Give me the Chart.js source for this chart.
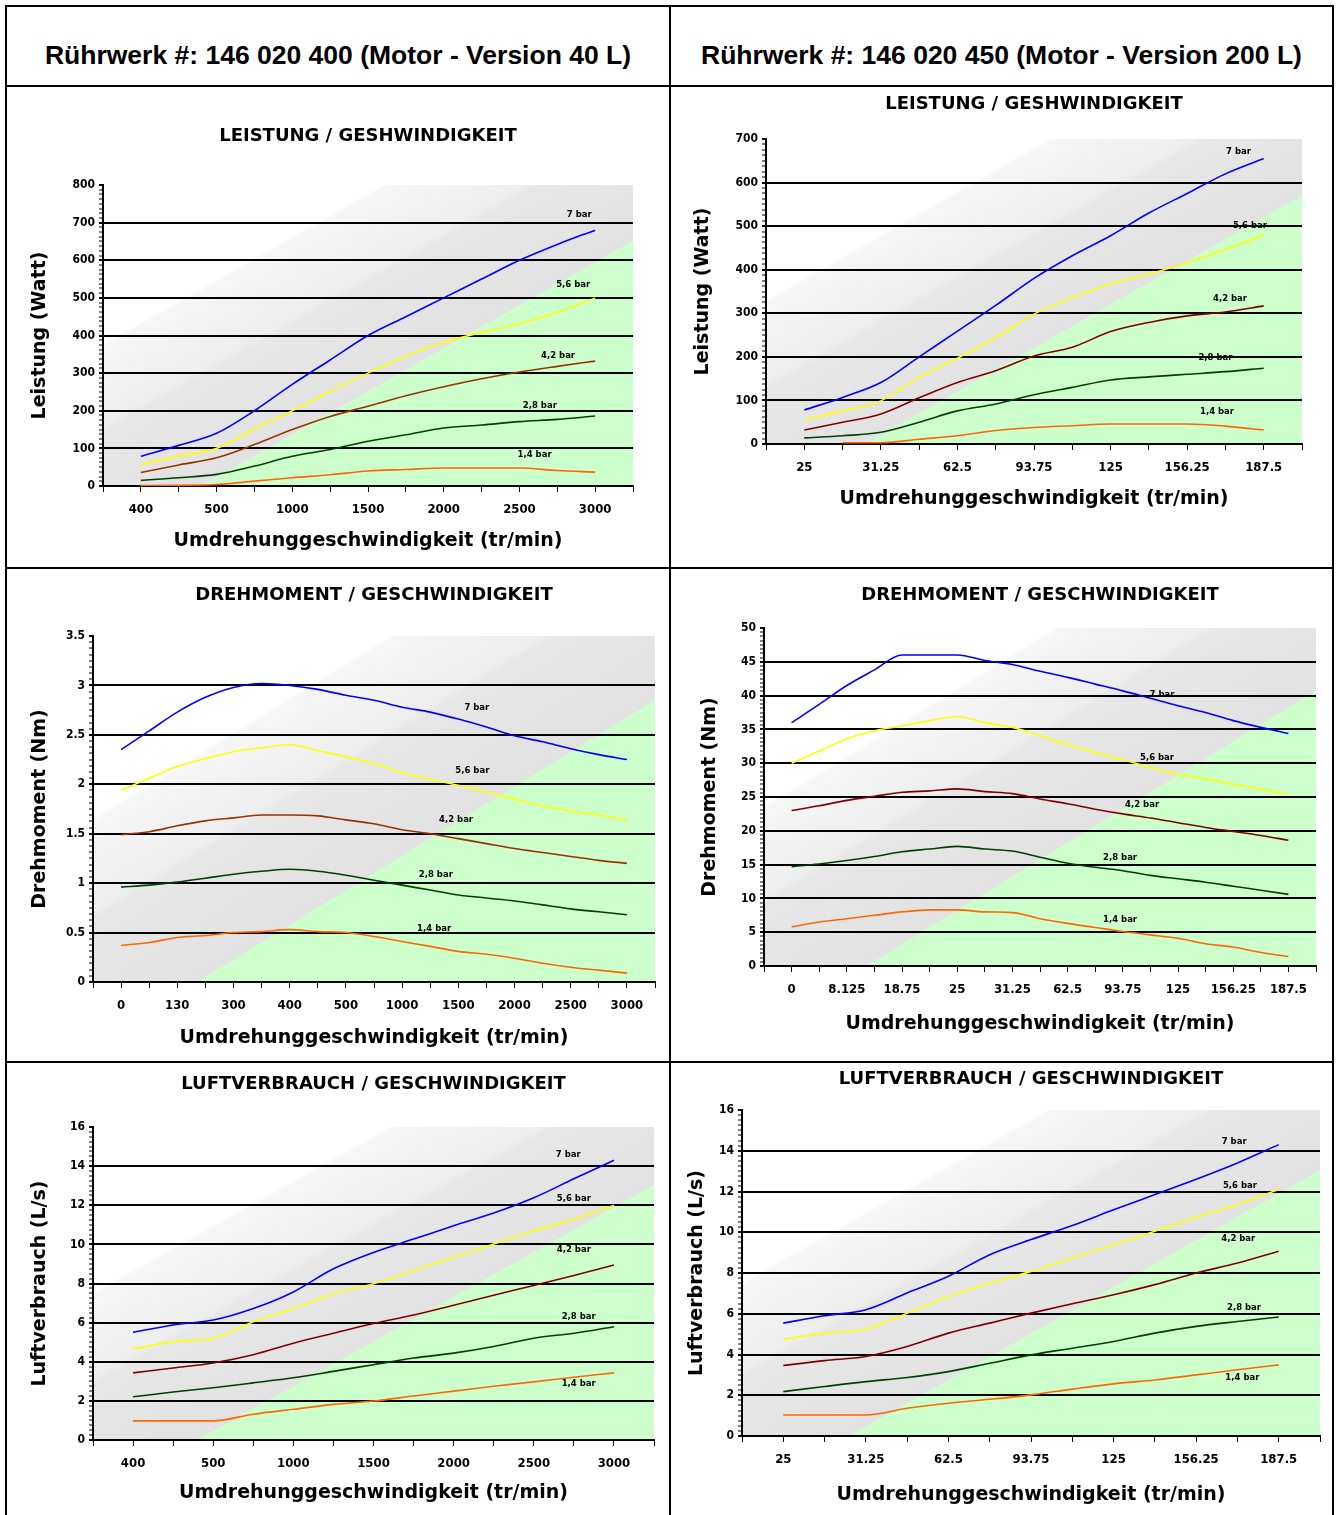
<!DOCTYPE html>
<html>
<head>
<meta charset="utf-8">
<script src="https://cdn.jsdelivr.net/npm/chart.js@4.4.1/dist/chart.umd.min.js"></script>
<style>
  body { margin: 0; background: #fff; width: 1336px; height: 1515px; position: relative; overflow: hidden; font-family: "Liberation Sans", Arial, sans-serif; }
  .ln { position: absolute; background: #000; }
  .hd { position: absolute; top: 40px; height: 30px; line-height: 30px; text-align: center; font-weight: bold; font-size: 26.5px; color: #000; white-space: nowrap; }
  canvas { position: absolute; }
</style>
</head>
<body>
<div class="ln" style="left:5px;top:5px;width:1329px;height:2px"></div>
<div class="ln" style="left:5px;top:85px;width:1329px;height:2px"></div>
<div class="ln" style="left:5px;top:567px;width:1329px;height:2px"></div>
<div class="ln" style="left:5px;top:1061px;width:1329px;height:2px"></div>
<div class="ln" style="left:5px;top:5px;width:2px;height:1510px"></div>
<div class="ln" style="left:669px;top:5px;width:2px;height:1510px"></div>
<div class="ln" style="left:1332px;top:5px;width:2px;height:1510px"></div>
<div class="hd" style="left:7px;width:662px">Rührwerk #: 146 020 400 (Motor - Version 40 L)</div>
<div class="hd" style="left:671px;width:661px">Rührwerk #: 146 020 450 (Motor - Version 200 L)</div>

<canvas id="c1" width="662" height="480" style="left:7px;top:87px"></canvas>
<canvas id="c2" width="661" height="480" style="left:671px;top:87px"></canvas>
<canvas id="c3" width="662" height="492" style="left:7px;top:569px"></canvas>
<canvas id="c4" width="661" height="492" style="left:671px;top:569px"></canvas>
<canvas id="c5" width="662" height="452" style="left:7px;top:1063px"></canvas>
<canvas id="c6" width="661" height="452" style="left:671px;top:1063px"></canvas>

<script>
// category labels on the x axes
const speeds40 = ['400', '500', '1000', '1500', '2000', '2500', '3000'];
const speeds200 = ['25', '31.25', '62.5', '93.75', '125', '156.25', '187.5'];
const torqueSpeeds40 = ['0', '130', '300', '400', '500', '1000', '1500', '2000', '2500', '3000'];
const torqueSpeeds200 = ['0', '8.125', '18.75', '25', '31.25', '62.5', '93.75', '125', '156.25', '187.5'];
const pressures = ['7 bar', '5,6 bar', '4,2 bar', '2,8 bar', '1,4 bar'];

// values read every half category (category, midpoint, next category ...)
const power40_7 = [79, 108, 140, 200, 270, 335, 400, 450, 500, 550, 600, 642, 680];
const power40_56 = [57, 80, 100, 152, 200, 252, 300, 345, 382, 408, 432, 462, 500];
const power40_42 = [36, 56, 75, 110, 150, 185, 212, 240, 264, 285, 303, 318, 332];
const power40_28 = [15, 22, 31, 53, 79, 97, 119, 136, 154, 162, 171, 177, 186];
const power40_14 = [1, 2, 4, 13, 22, 30, 40, 44, 48, 48, 48, 41, 37];

const power200_7 = [78, 107, 141, 200, 259, 318, 380, 432, 478, 530, 575, 620, 655];
const power200_56 = [55, 76, 99, 153, 197, 244, 298, 336, 368, 390, 416, 447, 480];
const power200_42 = [32, 50, 69, 106, 141, 168, 202, 222, 258, 279, 294, 303, 317];
const power200_28 = [14, 19, 27, 50, 76, 92, 113, 130, 147, 154, 160, 166, 174];
const power200_14 = [null, 3, 3, 11, 19, 31, 38, 42, 46, 46, 46, 41, 32];

const torque40_7 = [2.35, 2.54, 2.73, 2.88, 2.98, 3.02, 3.0, 2.96, 2.9, 2.85, 2.78, 2.73, 2.66, 2.58, 2.49, 2.43, 2.36, 2.3, 2.25];
const torque40_56 = [1.94, 2.06, 2.18, 2.26, 2.33, 2.37, 2.4, 2.34, 2.28, 2.21, 2.12, 2.05, 1.99, 1.92, 1.85, 1.78, 1.73, 1.69, 1.64];
const torque40_42 = [1.49, 1.52, 1.58, 1.63, 1.66, 1.69, 1.69, 1.68, 1.64, 1.6, 1.54, 1.5, 1.45, 1.4, 1.35, 1.31, 1.27, 1.23, 1.2];
const torque40_28 = [0.96, 0.98, 1.01, 1.05, 1.09, 1.12, 1.14, 1.12, 1.08, 1.03, 0.98, 0.93, 0.88, 0.85, 0.82, 0.78, 0.74, 0.71, 0.68];
const torque40_14 = [0.37, 0.4, 0.45, 0.47, 0.5, 0.51, 0.53, 0.51, 0.5, 0.46, 0.41, 0.36, 0.31, 0.28, 0.24, 0.19, 0.15, 0.12, 0.09];

const torque200_7 = [36, 38.7, 41.5, 43.8, 46, 46, 46, 45.2, 44.6, 43.6, 42.7, 41.7, 40.7, 39.6, 38.5, 37.5, 36.3, 35.3, 34.4];
const torque200_56 = [30, 31.8, 33.6, 34.8, 35.5, 36.3, 36.9, 36, 35.3, 34.1, 32.8, 31.6, 30.5, 29.4, 28.4, 27.7, 26.9, 26.2, 25.4];
const torque200_42 = [23, 23.7, 24.5, 25.1, 25.7, 25.9, 26.2, 25.8, 25.5, 24.7, 24, 23.2, 22.5, 21.9, 21.2, 20.5, 19.9, 19.3, 18.6];
const torque200_28 = [14.7, 15.1, 15.6, 16.2, 16.9, 17.3, 17.7, 17.3, 17, 16.1, 15.2, 14.6, 14.1, 13.4, 12.9, 12.4, 11.8, 11.2, 10.6];
const torque200_14 = [5.8, 6.5, 7, 7.5, 8, 8.3, 8.3, 8, 7.9, 7, 6.3, 5.7, 5.1, 4.6, 4.1, 3.3, 2.8, 2, 1.4];

const air40_7 = [5.5, 5.88, 6.13, 6.72, 7.57, 8.75, 9.59, 10.27, 10.95, 11.6, 12.38, 13.35, 14.3];
const air40_56 = [4.65, 5.03, 5.2, 6.05, 6.72, 7.48, 7.99, 8.67, 9.34, 10.02, 10.7, 11.28, 12];
const air40_42 = [3.43, 3.68, 3.94, 4.36, 4.95, 5.46, 5.96, 6.39, 6.89, 7.4, 7.9, 8.41, 8.95];
const air40_28 = [2.21, 2.45, 2.67, 2.92, 3.18, 3.51, 3.85, 4.19, 4.44, 4.78, 5.2, 5.46, 5.79];
const air40_14 = [0.98, 0.98, 0.98, 1.32, 1.57, 1.82, 1.99, 2.25, 2.5, 2.75, 2.97, 3.21, 3.43];

const air200_7 = [5.54, 5.9, 6.2, 7.02, 7.84, 8.9, 9.64, 10.33, 11.1, 11.85, 12.6, 13.4, 14.3];
const air200_56 = [4.75, 5.05, 5.25, 6.03, 6.85, 7.5, 8.08, 8.74, 9.39, 10.05, 10.75, 11.36, 12.1];
const air200_42 = [3.46, 3.7, 3.9, 4.39, 5.05, 5.54, 6.03, 6.49, 6.93, 7.43, 8, 8.49, 9.07];
const air200_28 = [2.18, 2.43, 2.67, 2.87, 3.16, 3.57, 3.98, 4.31, 4.64, 5.05, 5.38, 5.62, 5.84];
const air200_14 = [1.03, 1.03, 1.03, 1.36, 1.61, 1.8, 2.02, 2.3, 2.56, 2.75, 3, 3.25, 3.49];

const LINE_COLORS = ['#0000ff', '#ffff00', null, '#004000', '#ff6600'];

// diagonal grey / green background of each plot area
const bandPlugin = {
  id: 'bands',
  beforeDraw(chart) {
    const { ctx, chartArea: a } = chart;
    const w = a.right - a.left, h = a.bottom - a.top;
    const k = 2 / (h / w + w / h);
    const g = ctx.createLinearGradient(a.left, a.top, a.left + h * k, a.top + w * k);
    g.addColorStop(0, '#ffffff');
    g.addColorStop(0.262, '#ffffff');
    g.addColorStop(0.27, '#f6f6f6');
    g.addColorStop(0.4, '#eeeeee');
    g.addColorStop(0.41, '#e7e7e7');
    g.addColorStop(0.5925, '#e2e2e2');
    g.addColorStop(0.5926, '#ccffcc');
    g.addColorStop(1, '#ccffcc');
    ctx.save();
    ctx.fillStyle = g;
    ctx.fillRect(a.left, a.top, w, h);
    ctx.restore();
  }
};

// small pressure captions next to the curves
const captionPlugin = {
  id: 'captions',
  afterDatasetsDraw(chart, args, opts) {
    const { ctx, scales } = chart;
    ctx.save();
    ctx.font = 'bold 8.5px "DejaVu Sans"';
    ctx.fillStyle = '#000';
    ctx.textAlign = 'center';
    ctx.textBaseline = 'middle';
    (opts.anchors || []).forEach((p, i) => {
      ctx.fillText(pressures[i], scales.x.getPixelForValue(p[0]), scales.y.getPixelForValue(p[1]));
    });
    ctx.restore();
  }
};

function isMajor(v, major) {
  const r = v / major;
  return Math.abs(r - Math.round(r)) < 1e-6;
}

function makeChart(cfg) {
  const n = cfg.xLabels.length;
  const datasets = cfg.series.map((vals, i) => ({
    label: pressures[i],
    data: vals.map((v, j) => ({ x: j * 0.5, y: v })),
    borderColor: LINE_COLORS[i] || cfg.brown,
    borderWidth: 1.6,
    pointRadius: 0,
    cubicInterpolationMode: 'monotone',
    fill: false
  }));
  return new Chart(document.getElementById(cfg.id), {
    type: 'line',
    data: { datasets },
    plugins: [bandPlugin, captionPlugin],
    options: {
      responsive: false,
      animation: false,
      layout: { padding: { left: 0, top: 0, right: cfg.padRight, bottom: cfg.padBottom } },
      plugins: {
        legend: { display: false },
        tooltip: { enabled: false },
        captions: { anchors: cfg.anchors },
        title: {
          display: true, text: cfg.title, color: '#000', fullSize: false,
          font: { family: '"DejaVu Sans"', size: 18, weight: 'bold', lineHeight: 1.2 },
          padding: { top: cfg.titleTop, bottom: cfg.titleBottom }
        }
      },
      scales: {
        x: {
          type: 'linear', min: -0.5, max: n - 0.5,
          afterFit: s => { s.height = 75; },
          border: { color: '#000', width: 2 },
          grid: { drawOnChartArea: false, tickColor: '#000', tickLength: 6, tickWidth: 1 },
          ticks: {
            stepSize: 0.5, autoSkip: false, maxRotation: 0, padding: 10, color: '#000',
            font: { family: '"DejaVu Sans Condensed", "Liberation Sans Narrow", "DejaVu Sans"', size: 13, weight: 'bold' },
            callback: v => Number.isInteger(v) ? cfg.xLabels[v] : ''
          },
          title: {
            display: true, text: 'Umdrehunggeschwindigkeit (tr/min)', color: '#000',
            font: { family: '"DejaVu Sans"', size: 19, weight: 'bold', lineHeight: 1.2 },
            padding: { top: 0, bottom: cfg.xTitleBottom }
          }
        },
        y: {
          min: 0, max: cfg.yMax,
          afterFit: s => { s.width = cfg.yw; },
          border: { color: '#000', width: 2 },
          grid: {
            color: c => (c.tick && isMajor(c.tick.value, cfg.yMajor) && c.tick.value > 0 && c.tick.value < cfg.yMax) ? '#000' : 'rgba(0,0,0,0)',
            lineWidth: 2,
            tickColor: '#000', tickLength: 4,
            tickWidth: c => (c.tick && isMajor(c.tick.value, cfg.yMajor)) ? 2 : 1
          },
          ticks: {
            stepSize: cfg.yMajor / 8, autoSkip: false, padding: 4, color: '#000',
            font: { family: '"DejaVu Sans Condensed", "Liberation Sans Narrow", "DejaVu Sans"', size: 12, weight: 'bold' },
            callback: v => isMajor(v, cfg.yMajor) ? String(Math.round(v * 100) / 100) : ''
          },
          title: {
            display: true, text: cfg.yTitle, color: '#000',
            font: { family: '"DejaVu Sans"', size: 19, weight: 'bold', lineHeight: 1.2 },
            padding: { top: cfg.yTitleTop, bottom: 0 }
          }
        }
      }
    }
  });
}

makeChart({
  id: 'c1', title: 'LEISTUNG / GESHWINDIGKEIT', yTitle: 'Leistung (Watt)', xLabels: speeds40,
  series: [power40_7, power40_56, power40_42, power40_28, power40_14], brown: '#993300',
  yMax: 800, yMajor: 100,
  anchors: [[5.79, 720], [5.71, 536], [5.51, 347], [5.27, 213], [5.2, 83]],
  yw: 96, titleTop: 38.2, titleBottom: 38.2, padRight: 36, padBottom: 6, xTitleBottom: 8.6, yTitleTop: 21.6
});
makeChart({
  id: 'c2', title: 'LEISTUNG / GESHWINDIGKEIT', yTitle: 'Leistung (Watt)', xLabels: speeds200,
  series: [power200_7, power200_56, power200_42, power200_28, power200_14], brown: '#800000',
  yMax: 700, yMajor: 100,
  anchors: [[5.67, 670], [5.82, 500], [5.56, 333], [5.37, 197], [5.39, 73]],
  yw: 95, titleTop: 6.2, titleBottom: 24.2, padRight: 30, padBottom: 48, xTitleBottom: 8.6, yTitleTop: 20.6
});
makeChart({
  id: 'c3', title: 'DREHMOMENT / GESCHWINDIGKEIT', yTitle: 'Drehmoment (Nm)', xLabels: torqueSpeeds40,
  series: [torque40_7, torque40_56, torque40_42, torque40_28, torque40_14], brown: '#993300',
  yMax: 3.5, yMajor: 0.5,
  anchors: [[6.33, 2.77], [6.25, 2.14], [5.96, 1.64], [5.6, 1.08], [5.57, 0.54]],
  yw: 86, titleTop: 15.2, titleBottom: 30.2, padRight: 14, padBottom: 4, xTitleBottom: 7.6, yTitleTop: 21.6
});
makeChart({
  id: 'c4', title: 'DREHMOMENT / GESCHWINDIGKEIT', yTitle: 'Drehmoment (Nm)', xLabels: torqueSpeeds200,
  series: [torque200_7, torque200_56, torque200_42, torque200_28, torque200_14], brown: '#800000',
  yMax: 50, yMajor: 5,
  anchors: [[6.71, 40.1], [6.62, 30.8], [6.35, 23.8], [5.95, 16], [5.95, 6.8]],
  yw: 93, titleTop: 15.2, titleBottom: 22.2, padRight: 16, padBottom: 20, xTitleBottom: 5.6, yTitleTop: 27.6
});
makeChart({
  id: 'c5', title: 'LUFTVERBRAUCH / GESCHWINDIGKEIT', yTitle: 'Luftverbrauch (L/s)', xLabels: speeds40,
  series: [air40_7, air40_56, air40_42, air40_28, air40_14], brown: '#800000',
  yMax: 16, yMajor: 2,
  anchors: [[5.43, 14.57], [5.5, 12.32], [5.5, 9.71], [5.56, 6.29], [5.56, 2.86]],
  yw: 86, titleTop: 10.2, titleBottom: 32.2, padRight: 15, padBottom: 0, xTitleBottom: 10.6, yTitleTop: 21.6
});
makeChart({
  id: 'c6', title: 'LUFTVERBRAUCH / GESCHWINDIGKEIT', yTitle: 'Luftverbrauch (L/s)', xLabels: speeds200,
  series: [air200_7, air200_56, air200_42, air200_28, air200_14], brown: '#800000',
  yMax: 16, yMajor: 2,
  anchors: [[5.46, 14.46], [5.53, 12.3], [5.51, 9.7], [5.58, 6.27], [5.56, 2.84]],
  yw: 71, titleTop: 5.2, titleBottom: 20.2, padRight: 12, padBottom: 4, xTitleBottom: 4.6, yTitleTop: 14.6
});
</script>
</body>
</html>
